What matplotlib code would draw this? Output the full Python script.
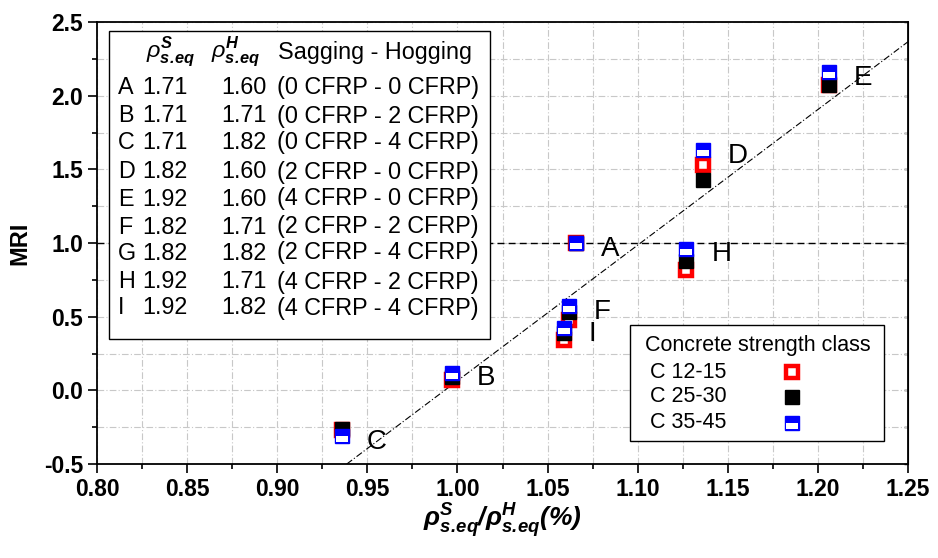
import matplotlib
matplotlib.use('Agg')
import matplotlib.pyplot as plt
from matplotlib.path import Path
from matplotlib.patches import Rectangle
from matplotlib.ticker import MultipleLocator, FormatStrFormatter

plt.rcParams['font.family'] = 'Liberation Sans'
plt.rcParams['axes.unicode_minus'] = False
plt.rcParams['mathtext.fontset'] = 'custom'
plt.rcParams['mathtext.rm'] = 'Liberation Sans'
plt.rcParams['mathtext.it'] = 'Liberation Sans:italic'
plt.rcParams['mathtext.bf'] = 'Liberation Sans:bold:italic'

# points on the chart (G is not plotted)
points = ['A', 'B', 'C', 'D', 'E', 'F', 'H', 'I']
ratio = [1.066, 0.997, 0.936, 1.136, 1.206, 1.062, 1.127, 1.059]
mri_c12_15 = [1.00, 0.07, -0.27, 1.53, 2.07, 0.48, 0.82, 0.34]
mri_c25_30 = [1.00, 0.09, -0.26, 1.43, 2.07, 0.53, 0.875, 0.39]
mri_c35_45 = [1.00, 0.12, -0.31, 1.63, 2.16, 0.57, 0.96, 0.42]

# trend line
fit_x = [0.9386, 1.25]
fit_y = [-0.5, 2.366]

# table in the upper left box
beams = ['A', 'B', 'C', 'D', 'E', 'F', 'G', 'H', 'I']
rho_sag = ['1.71', '1.71', '1.71', '1.82', '1.92', '1.82', '1.82', '1.92', '1.92']
rho_hog = ['1.60', '1.71', '1.82', '1.60', '1.60', '1.71', '1.82', '1.71', '1.82']
cfrp = ['(0 CFRP - 0 CFRP)', '(0 CFRP - 2 CFRP)', '(0 CFRP - 4 CFRP)',
        '(2 CFRP - 0 CFRP)', '(4 CFRP - 0 CFRP)', '(2 CFRP - 2 CFRP)',
        '(2 CFRP - 4 CFRP)', '(4 CFRP - 2 CFRP)', '(4 CFRP - 4 CFRP)']

classes = ['C 12-15', 'C 25-30', 'C 35-45']

W, H = 938, 558
fig = plt.figure(figsize=(W / 100, H / 100), dpi=100)
ax = fig.add_axes([97 / W, 1 - 464 / H, 811 / W, 442 / H])


def fx(px):
    return px / W


def fy(py):
    return 1 - py / H


ax.set_xlim(0.80, 1.25)
ax.set_ylim(-0.5, 2.5)
ax.xaxis.set_major_locator(MultipleLocator(0.05))
ax.xaxis.set_minor_locator(MultipleLocator(0.025))
ax.yaxis.set_major_locator(MultipleLocator(0.5))
ax.yaxis.set_minor_locator(MultipleLocator(0.25))
ax.xaxis.set_major_formatter(FormatStrFormatter('%.2f'))
ax.yaxis.set_major_formatter(FormatStrFormatter('%.1f'))
ax.grid(True, which='both', color='#c8c8c8', linestyle=(0, (6, 2, 1, 2)), linewidth=0.8)
ax.set_axisbelow(True)
ax.tick_params(which='major', direction='out', length=6.5, width=1.2, labelsize=16.5)
ax.tick_params(which='minor', direction='out', length=3.5, width=1.2)
for lab in ax.get_xticklabels() + ax.get_yticklabels():
    lab.set_fontweight('bold')
for s in ax.spines.values():
    s.set_linewidth(1.3)

sec = ax.secondary_yaxis('right')
sec.yaxis.set_major_locator(MultipleLocator(0.25))
sec.tick_params(direction='in', length=3, width=1.0, labelright=False)

ax.axhline(1.0, color='black', linestyle=(0, (5, 3)), linewidth=1.0, zorder=2)
ax.plot(fit_x, fit_y, color='black', linestyle=(0, (6, 2, 1, 2)), linewidth=0.8, zorder=2)

# markers
ms_full = 11.5
inset = Path([(-0.39, -0.37), (0.39, -0.37), (0.39, -0.02), (-0.39, -0.02), (-0.39, -0.37)],
             [Path.MOVETO, Path.LINETO, Path.LINETO, Path.LINETO, Path.CLOSEPOLY])


def draw_marks(xs, ys, kind, transform=None):
    kw = dict(linestyle='none', zorder=5, clip_on=False)
    if transform is not None:
        kw['transform'] = transform
    if kind == 'red':
        ax.plot(xs, ys, marker='s', ms=8.3, mew=3.2, mfc='white', mec='#ff0000', **kw)
    elif kind == 'black':
        ax.plot(xs, ys, marker='s', ms=10.5, mew=1.0, mfc='black', mec='black', **kw)
    else:
        ax.plot(xs, ys, marker='s', ms=10.5, mew=1.0, mfc='#0000ff', mec='#0000ff', **kw)
        ax.plot(xs, ys, marker=inset, ms=ms_full * 0.78, mew=0, mfc='white', **kw)


draw_marks(ratio, mri_c12_15, 'red')
draw_marks(ratio, mri_c25_30, 'black')
draw_marks(ratio, mri_c35_45, 'blue')

for name, x, y in zip(points, ratio, mri_c35_45):
    ax.annotate(name, (x, y), xytext=(18, -4), textcoords='offset points',
                ha='left', va='center', fontsize=20, zorder=6)

ax.set_ylabel('MRI', fontsize=17, fontweight='bold', labelpad=9)
ax.set_xlabel(r'$\mathbf{\rho}^{\mathbf{S}}_{\mathbf{s.\!eq}}\mathbf{/}\mathbf{\rho}^{\mathbf{H}}_{\mathbf{s.\!eq}}\mathbf{(\%)}$',
              fontsize=19, labelpad=0)

# table box
ax.add_patch(Rectangle((fx(109), fy(339)), fx(490) - fx(109), fy(31) - fy(339),
                       transform=fig.transFigure, facecolor='white', clip_on=False,
                       edgecolor='black', linewidth=1.0, zorder=3))
tfs = 16.8
fig.text(fx(146), fy(52), r'$\rho^{\mathbf{S}}_{\mathbf{s.\!eq}}$', fontsize=tfs, va='center')
fig.text(fx(211), fy(52), r'$\rho^{\mathbf{H}}_{\mathbf{s.\!eq}}$', fontsize=tfs, va='center')
fig.text(fx(278), fy(52), 'Sagging - Hogging', fontsize=tfs, va='center')
row_y = [88, 116, 143, 172, 199, 227, 253, 282, 308]
for b, s, h, c, py in zip(beams, rho_sag, rho_hog, cfrp, row_y):
    fig.text(fx(118), fy(py), b, fontsize=tfs, va='center')
    fig.text(fx(142), fy(py), s, fontsize=tfs, va='center')
    fig.text(fx(221), fy(py), h, fontsize=tfs, va='center')
    fig.text(fx(277), fy(py), c, fontsize=tfs, va='center')

# concrete class legend
ax.add_patch(Rectangle((fx(630), fy(441)), fx(884) - fx(630), fy(325) - fy(441),
                       transform=fig.transFigure, facecolor='white', clip_on=False,
                       edgecolor='black', linewidth=1.0, zorder=3))
fig.text(fx(645), fy(346), 'Concrete strength class', fontsize=15.5, va='center')
leg_y = [372, 397, 423]
for cls, py, kind in zip(classes, leg_y, ['red', 'black', 'blue']):
    fig.text(fx(650), fy(py), cls, fontsize=15.5, va='center')
    draw_marks([fx(792)], [fy(py)], kind, transform=fig.transFigure)

fig.savefig('out.png', dpi=100)
